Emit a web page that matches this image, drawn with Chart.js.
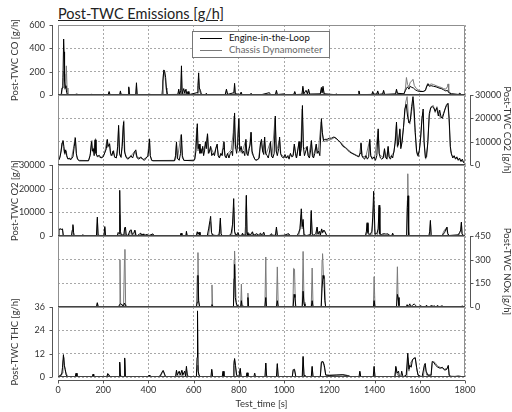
<!DOCTYPE html>
<html>
<head>
<meta charset="utf-8">
<script src="https://cdn.jsdelivr.net/npm/chart.js@4.4.1/dist/chart.umd.min.js"></script>
<style>
  html, body { margin: 0; padding: 0; background: #fff; }
  #wrap { position: relative; width: 512px; height: 412px; overflow: hidden; font-family: Lato, sans-serif; }
  #wrap canvas { position: absolute; left: 0; top: 0; }
  #title { position: absolute; left: 58px; top: 5px; font-size: 14.5px; line-height: normal; color: #222; text-decoration: underline; white-space: nowrap; }
  #legend { position: absolute; left: 192px; top: 31px; width: 136px; height: 25px; background: #fff; border: 1px solid #777; font-size: 9.5px; z-index: 5; }
  #legend .row { height: 12px; line-height: 12px; white-space: nowrap; }
  #legend .swatch { display: inline-block; width: 22px; height: 0; vertical-align: middle; margin: 0 7px 0 7px; }
</style>
</head>
<body>
<div id="wrap">
  <div id="title">Post-TWC Emissions [g/h]</div>
  <div id="legend"></div>
</div>
<script>
// series names / colours
const seriesNames = ['Engine-in-the-Loop', 'Chassis Dynamometer'];
const seriesColors = ['#000000', '#7a7a7a'];

// [time s, g/h]
const coEngine = [[0,2],[14,4],[18,60],[22,150],[25,480],[27,370],[29,120],[32,60],[35,80],[38,20],[42,3],[78,2],[81,10],[84,2],[145,2],[148,8],[151,2],[222,3],[226,30],[230,4],[273,3],[276,35],[279,5],[310,4],[313,70],[316,5],[344,3],[347,105],[350,4],[402,2],[405,10],[408,2],[460,4],[464,120],[468,215],[472,200],[476,150],[480,40],[484,4],[530,5],[534,50],[538,6],[543,40],[546,250],[549,10],[556,55],[560,15],[566,50],[570,5],[575,30],[579,3],[615,20],[619,80],[622,190],[625,60],[630,40],[634,5],[652,3],[656,15],[660,3],[700,2],[740,5],[745,50],[750,5],[778,20],[781,100],[784,10],[806,5],[810,25],[814,3],[850,3],[854,15],[858,2],[900,3],[935,20],[940,3],[962,5],[966,40],[970,4],[1003,10],[1006,2],[1043,5],[1047,30],[1051,4],[1079,6],[1083,75],[1087,10],[1097,40],[1103,10],[1108,50],[1113,8],[1160,10],[1165,65],[1168,20],[1172,75],[1177,10],[1226,3],[1230,10],[1234,3],[1327,3],[1331,35],[1335,3],[1388,5],[1392,30],[1396,5],[1410,10],[1414,35],[1418,5],[1436,10],[1440,40],[1444,5],[1493,10],[1497,50],[1501,15],[1530,10],[1537,40],[1541,55],[1546,70],[1552,50],[1558,75],[1565,65],[1572,60],[1580,45],[1590,35],[1600,30],[1615,30],[1625,40],[1632,80],[1636,95],[1642,75],[1650,80],[1660,75],[1672,70],[1685,60],[1695,55],[1705,45],[1715,35],[1722,40],[1728,20],[1740,10],[1770,5],[1777,15],[1784,3],[1800,2]];
const coChassis = [[0,2],[16,5],[20,80],[24,200],[27,180],[30,50],[34,100],[37,250],[40,60],[44,3],[78,2],[81,8],[84,2],[145,2],[148,10],[151,2],[222,2],[226,20],[230,3],[273,2],[276,25],[279,3],[310,3],[313,60],[316,3],[344,3],[347,80],[350,3],[402,2],[405,8],[408,2],[458,3],[462,50],[466,180],[470,210],[474,140],[478,60],[482,3],[530,3],[534,30],[538,3],[543,3],[546,200],[549,8],[556,8],[560,40],[564,5],[572,3],[575,20],[579,2],[615,3],[619,60],[622,140],[626,30],[634,3],[652,2],[656,10],[660,2],[740,2],[745,40],[750,3],[778,3],[781,80],[784,8],[806,2],[810,20],[814,2],[850,2],[854,10],[858,2],[962,2],[966,30],[970,3],[1043,2],[1047,25],[1051,3],[1079,3],[1083,60],[1087,8],[1104,5],[1108,40],[1113,5],[1160,5],[1165,50],[1168,15],[1172,60],[1177,8],[1226,2],[1230,8],[1234,2],[1327,2],[1331,30],[1335,2],[1388,2],[1392,25],[1396,3],[1410,3],[1414,30],[1418,3],[1436,3],[1440,35],[1444,3],[1493,3],[1497,40],[1501,10],[1530,8],[1537,60],[1541,150],[1546,90],[1552,70],[1558,110],[1565,120],[1570,135],[1576,80],[1585,55],[1600,35],[1615,30],[1625,40],[1632,90],[1636,100],[1642,85],[1650,95],[1660,90],[1672,80],[1685,70],[1695,65],[1705,55],[1715,50],[1722,70],[1725,95],[1728,30],[1740,10],[1772,3],[1777,12],[1784,2],[1800,2]];

const co2Engine = [[0,1500],[8,3000],[14,6000],[18,9500],[22,10500],[26,8000],[30,5000],[34,6500],[38,4000],[44,2500],[50,3000],[56,2200],[66,3500],[72,8000],[77,11500],[81,5000],[86,2500],[95,1800],[135,1800],[142,4000],[148,10000],[152,6000],[156,7000],[160,4000],[164,10800],[168,5000],[174,3500],[182,4200],[190,3000],[200,3500],[208,5500],[214,7000],[218,11000],[222,8000],[228,9000],[232,5000],[238,4000],[244,6000],[250,3500],[258,3000],[264,8000],[268,17000],[272,5000],[278,3500],[284,8000],[290,18500],[294,6000],[300,3500],[308,2500],[316,3000],[322,4000],[330,3000],[338,5500],[344,6500],[350,3000],[358,2500],[366,3500],[374,2500],[382,2000],[390,3000],[398,4000],[402,7000],[405,11000],[408,4000],[414,2000],[420,1800],[515,1800],[520,4000],[524,9900],[528,3000],[536,2000],[542,5000],[546,13000],[550,4000],[556,2000],[600,1800],[605,2500],[610,6000],[616,17700],[620,7000],[624,9000],[628,5000],[632,7000],[636,5000],[640,8000],[644,4000],[648,6000],[652,10000],[656,7000],[661,13400],[665,5000],[670,6000],[675,8000],[680,4000],[686,5000],[692,4000],[698,7000],[704,9000],[708,4000],[714,3000],[720,5000],[726,4000],[730,7000],[734,10000],[738,4000],[744,3000],[750,5000],[756,3000],[762,5000],[768,6000],[772,4000],[777,12000],[781,22300],[785,8000],[790,5000],[795,9000],[800,19900],[804,6000],[810,8000],[815,5000],[820,6000],[826,4000],[831,11000],[835,5000],[840,4000],[846,7000],[850,9000],[854,14000],[858,6000],[864,4000],[870,2500],[876,2000],[882,2200],[890,3000],[895,9000],[900,11000],[905,6000],[910,4500],[914,12000],[918,5000],[925,4000],[930,3000],[936,6000],[940,10000],[944,4000],[950,3000],[956,5000],[961,21000],[965,6000],[970,4000],[976,7000],[980,12000],[984,5000],[990,3500],[998,3000],[1004,4500],[1010,3000],[1016,4000],[1022,2500],[1028,5000],[1034,3500],[1040,4000],[1045,9000],[1050,5000],[1055,3000],[1060,6000],[1066,10000],[1070,4000],[1076,7000],[1081,25500],[1085,8000],[1090,4000],[1096,6000],[1102,8000],[1106,4000],[1112,3000],[1117,6000],[1121,10500],[1125,4000],[1130,3000],[1136,5000],[1142,9000],[1146,5000],[1152,6000],[1158,4000],[1165,19900],[1169,14000],[1174,10500],[1180,11000],[1190,11000],[1200,11500],[1210,11500],[1220,12000],[1230,11500],[1240,10500],[1250,9500],[1260,8000],[1270,7500],[1280,6500],[1290,5500],[1300,5000],[1310,4500],[1320,4000],[1330,3500],[1336,5000],[1340,9500],[1344,4000],[1350,3000],[1356,2500],[1362,4000],[1368,2500],[1374,3500],[1379,11000],[1383,4000],[1390,2500],[1398,3500],[1404,2000],[1410,4000],[1416,15500],[1420,5000],[1426,3000],[1432,2500],[1438,3000],[1444,7000],[1448,3500],[1455,2500],[1460,8000],[1464,3500],[1470,2500],[1476,4000],[1480,3000],[1486,6000],[1492,10000],[1497,18400],[1501,8000],[1506,9000],[1512,15500],[1516,7000],[1522,10000],[1528,16000],[1534,24000],[1540,26000],[1546,21000],[1552,18000],[1558,19000],[1564,25000],[1570,29300],[1575,24000],[1580,14000],[1586,6000],[1592,4000],[1598,6300],[1604,12000],[1610,20000],[1615,24000],[1619,10000],[1625,3000],[1630,3500],[1636,10000],[1642,22000],[1648,24500],[1655,25000],[1662,24500],[1668,23000],[1675,24500],[1682,21000],[1688,23500],[1694,20500],[1700,20000],[1706,22000],[1712,24000],[1718,25500],[1725,26400],[1730,20000],[1735,8000],[1740,4800],[1746,3000],[1752,4000],[1758,2500],[1764,3500],[1770,2000],[1776,3000],[1782,1500],[1788,2500],[1794,1000],[1800,500]];
const co2Chassis = [[0,1500],[10,4000],[16,8000],[20,10000],[24,7000],[30,4500],[36,6000],[42,3000],[50,2500],[60,3000],[68,7000],[76,12000],[82,4000],[90,2000],[135,1900],[144,5000],[150,10500],[154,5500],[160,7500],[166,11300],[170,4500],[180,3500],[192,3200],[206,5000],[216,10500],[220,7500],[228,9500],[234,4000],[246,6300],[252,3000],[262,4000],[268,16000],[272,4500],[280,3000],[288,17000],[291,19000],[296,5000],[306,3000],[320,3500],[340,6000],[348,3500],[364,3000],[378,2500],[396,3500],[404,11300],[408,4000],[416,1900],[518,2000],[524,9000],[528,2500],[544,13000],[550,3000],[560,1900],[604,2200],[614,16000],[619,6000],[626,8500],[634,6000],[646,7000],[654,9000],[662,13000],[668,5000],[676,7500],[690,4500],[702,8500],[712,3500],[724,4500],[732,9500],[740,3500],[752,5000],[766,6500],[775,14000],[779,21000],[784,7000],[792,8500],[799,19000],[804,5500],[816,6000],[830,10500],[836,4500],[848,8500],[853,14100],[858,5000],[872,2200],[886,2500],[898,10000],[906,5500],[913,11000],[920,4500],[938,9500],[946,3500],[960,20000],[966,5500],[980,11000],[986,4500],[1000,3500],[1012,3000],[1026,4500],[1038,3500],[1046,8500],[1054,3000],[1066,9500],[1072,4000],[1080,24000],[1086,7000],[1100,7500],[1108,3500],[1120,10000],[1128,3500],[1142,8500],[1150,5000],[1164,18500],[1170,13000],[1176,10000],[1190,10500],[1210,11000],[1222,11800],[1236,10800],[1250,9800],[1266,8000],[1284,6500],[1300,5200],[1320,4200],[1332,3600],[1340,9000],[1346,3500],[1362,3800],[1378,10500],[1384,3500],[1400,3000],[1416,14500],[1422,4500],[1440,3000],[1444,6500],[1452,2800],[1460,7500],[1466,3000],[1486,5500],[1497,17500],[1502,7500],[1512,15000],[1518,8000],[1530,18000],[1538,27000],[1544,29300],[1550,20000],[1556,17500],[1564,23000],[1570,27500],[1578,16000],[1586,5000],[1594,3500],[1602,9000],[1610,21000],[1614,22500],[1620,8000],[1626,2500],[1634,8000],[1642,21000],[1650,25000],[1660,25500],[1668,22500],[1676,25000],[1684,22000],[1692,20000],[1700,21000],[1710,23500],[1718,26000],[1724,26400],[1730,18000],[1736,6000],[1742,4000],[1750,3500],[1760,3000],[1770,2500],[1780,2000],[1790,1500],[1800,800]];

const o2Engine = [[0,0],[4,2800],[10,3000],[16,2800],[20,3000],[23,300],[30,0],[60,0],[63,2500],[66,4800],[69,1500],[72,0],[108,0],[110,600],[112,0],[170,0],[174,8000],[177,500],[180,0],[203,0],[207,4000],[210,300],[215,0],[262,0],[266,1500],[270,1000],[273,19300],[276,2000],[280,400],[291,500],[295,3500],[298,3800],[302,500],[310,200],[318,2300],[324,2600],[328,600],[336,1500],[340,2500],[344,300],[350,100],[360,800],[366,1200],[370,300],[376,900],[380,200],[395,700],[400,100],[420,900],[424,100],[540,0],[544,1200],[548,200],[566,0],[568,2000],[571,100],[612,0],[616,1800],[620,800],[624,1600],[628,0],[660,0],[666,3000],[672,6500],[675,8300],[679,1500],[684,500],[692,300],[700,200],[712,400],[715,3000],[718,7600],[721,1000],[726,200],[740,0],[760,300],[766,1200],[772,5000],[777,15800],[781,2000],[786,500],[792,800],[796,1500],[800,300],[812,200],[816,1200],[820,300],[828,400],[831,9000],[833,17200],[836,1500],[840,200],[845,1000],[850,300],[860,1800],[865,300],[880,1000],[884,200],[896,1200],[900,300],[906,1000],[910,1600],[914,200],[930,100],[940,400],[944,1000],[948,300],[962,300],[966,3800],[970,500],[975,200],[1000,300],[1020,1000],[1026,200],[1058,200],[1064,1400],[1070,3000],[1076,11500],[1080,4000],[1084,7000],[1088,500],[1100,200],[1116,600],[1120,10800],[1124,800],[1132,300],[1140,1000],[1146,3800],[1150,800],[1156,2000],[1160,400],[1166,3000],[1170,1500],[1176,2500],[1180,2000],[1186,600],[1192,100],[1200,0],[1360,0],[1364,2000],[1367,5600],[1371,1500],[1380,500],[1388,2000],[1392,8000],[1396,18900],[1399,10000],[1402,800],[1410,1000],[1416,3000],[1420,13000],[1423,1000],[1430,600],[1440,1000],[1450,800],[1460,900],[1466,300],[1476,100],[1480,1200],[1484,100],[1530,0],[1542,300],[1545,12000],[1548,17000],[1551,500],[1556,0],[1640,0],[1644,2000],[1647,6600],[1650,600],[1656,0],[1690,0],[1700,300],[1710,1500],[1716,3000],[1720,3800],[1724,1000],[1730,200],[1770,500],[1776,1500],[1781,2500],[1784,5900],[1787,1000],[1792,300],[1800,0]];
const o2Chassis = [[0,0],[4,2500],[12,3000],[20,2500],[24,0],[60,0],[63,2000],[66,4000],[70,0],[108,0],[110,400],[112,0],[171,0],[174,7000],[178,0],[204,0],[207,3500],[211,0],[263,0],[266,1000],[270,800],[273,9000],[276,1500],[280,0],[292,0],[295,3000],[300,0],[316,0],[320,2000],[326,1500],[330,0],[333,0],[336,1200],[342,2200],[346,0],[363,0],[366,1000],[370,0],[375,0],[378,700],[382,0],[417,0],[420,600],[424,0],[541,0],[544,900],[548,0],[565,0],[568,1500],[572,0],[613,0],[616,1500],[620,600],[624,1400],[628,0],[666,0],[672,5000],[675,6000],[679,1000],[684,0],[712,0],[715,2500],[718,6500],[722,0],[768,0],[772,3000],[777,12000],[781,1500],[786,0],[793,0],[796,1200],[800,0],[813,0],[816,1000],[820,0],[826,0],[829,4000],[833,17000],[836,1000],[840,0],[857,0],[860,1500],[865,0],[893,0],[896,1000],[900,0],[907,0],[910,1400],[914,0],[962,0],[966,3000],[970,0],[1017,0],[1020,800],[1026,0],[1064,0],[1070,2500],[1076,9000],[1080,3000],[1084,6000],[1088,0],[1116,0],[1120,9500],[1124,500],[1130,0],[1142,0],[1146,3500],[1150,500],[1160,0],[1166,2800],[1170,1200],[1176,2200],[1182,1500],[1190,0],[1361,0],[1364,1500],[1367,5000],[1371,1000],[1376,0],[1388,0],[1392,6000],[1396,14000],[1400,3000],[1404,0],[1413,0],[1416,2500],[1420,12000],[1424,500],[1430,0],[1437,0],[1440,800],[1446,0],[1457,0],[1460,700],[1466,0],[1477,0],[1480,1000],[1484,0],[1540,0],[1542,500],[1545,15000],[1547,26300],[1550,2000],[1554,0],[1641,0],[1644,1500],[1647,6000],[1651,0],[1695,0],[1700,500],[1706,2000],[1712,2800],[1718,3500],[1722,1500],[1726,0],[1772,0],[1776,1200],[1781,2000],[1784,5500],[1787,800],[1792,0],[1800,0]];

const noxEngine = [[0,0],[170,0],[174,25],[178,0],[268,0],[272,15],[276,20],[290,5],[294,25],[298,15],[302,0],[325,3],[330,0],[612,0],[616,30],[619,200],[622,40],[626,5],[630,0],[677,0],[681,15],[684,0],[776,0],[779,180],[781,270],[784,60],[788,30],[792,10],[808,0],[811,40],[814,5],[818,0],[836,0],[840,60],[843,0],[915,0],[919,60],[922,5],[926,0],[966,0],[970,40],[974,0],[1040,0],[1044,80],[1048,60],[1052,0],[1080,0],[1084,100],[1088,20],[1092,0],[1120,0],[1124,40],[1128,0],[1164,0],[1168,120],[1172,200],[1176,180],[1180,40],[1184,0],[1395,0],[1398,40],[1402,0],[1497,0],[1501,80],[1504,60],[1508,10],[1512,0],[1540,0],[1544,15],[1548,0],[1556,20],[1560,0],[1570,15],[1576,18],[1582,10],[1586,0],[1600,0],[1604,10],[1608,0],[1625,0],[1630,12],[1634,0],[1645,0],[1650,10],[1654,0],[1665,8],[1670,0],[1680,10],[1684,0],[1700,8],[1704,0],[1784,0],[1788,8],[1792,0],[1800,0]];
const noxChassis = [[0,0],[170,0],[174,30],[178,0],[270,0],[274,300],[277,20],[290,10],[294,300],[296,365],[299,20],[302,0],[612,0],[616,200],[619,345],[622,30],[626,0],[677,0],[681,140],[684,0],[776,0],[779,300],[781,355],[784,200],[788,20],[792,0],[808,0],[811,145],[814,10],[818,0],[836,0],[840,88],[843,0],[915,0],[919,317],[922,10],[926,0],[966,0],[970,254],[974,0],[1039,0],[1042,245],[1046,240],[1050,0],[1080,0],[1084,352],[1088,30],[1092,0],[1120,0],[1124,247],[1128,0],[1164,0],[1168,300],[1170,338],[1174,200],[1179,180],[1183,0],[1395,0],[1398,192],[1402,0],[1497,0],[1501,255],[1504,60],[1508,0],[1800,0]];

const thcEngine = [[0,0],[16,1],[20,5],[24,11.5],[28,6],[32,4],[36,1],[44,0],[76,0],[80,2],[84,0],[152,0],[155,1.5],[158,0],[216,0],[220,1.8],[226,1],[230,0],[270,0],[273,7.7],[276,0.5],[292,0],[295,9.8],[298,0.5],[302,0],[400,0],[403,1],[406,0],[440,0],[452,0.6],[460,2.5],[465,3.4],[470,2],[476,0],[520,0],[524,3.5],[528,1],[536,3],[540,1],[548,3.5],[552,1],[560,3],[564,0.5],[568,5.5],[572,1],[580,0],[612,0],[615,10],[617,34],[620,3],[624,1],[630,0],[676,0],[680,4],[684,0],[726,0],[730,3],[734,0],[776,0],[778,6],[781,9.5],[785,6],[790,1],[800,0],[806,4.5],[810,0],[832,0],[836,2.2],[840,0],[866,0],[870,2],[874,0],[915,0],[919,7.2],[922,1],[926,0],[966,0],[970,6.9],[974,0],[1036,0],[1040,3.5],[1046,4],[1052,0],[1080,0],[1084,10.6],[1088,1],[1092,0],[1120,0],[1124,5.5],[1128,0],[1160,0],[1165,7.5],[1172,8],[1178,6],[1184,1],[1200,0.8],[1230,1],[1260,1.2],[1280,0.8],[1300,0],[1331,0],[1335,3],[1339,0],[1394,0],[1398,5.5],[1402,0],[1490,0],[1494,5.5],[1500,2],[1506,3],[1510,0],[1516,0],[1520,3],[1526,0],[1540,1],[1547,12.3],[1552,4],[1556,6],[1562,5],[1568,9],[1574,9.5],[1580,10],[1586,5],[1592,1],[1610,0],[1620,6],[1624,7],[1628,3],[1636,1],[1650,1],[1655,8],[1662,7.5],[1670,6],[1680,5],[1690,4.5],[1700,5],[1710,3.5],[1720,4],[1726,6],[1730,1],[1740,0],[1770,0.5],[1800,0]];
const thcChassis = [[0,0],[18,2],[22,8],[26,10],[30,4],[36,2],[44,0],[77,0],[80,1.5],[84,0],[152,0],[155,1],[158,0],[216,0],[220,1.5],[226,0.5],[230,0],[270,0],[273,7],[276,0],[292,0],[295,9],[298,0],[400,0],[403,0.8],[406,0],[452,0],[460,2],[465,3],[470,1.5],[476,0],[521,0],[524,3],[528,0.5],[545,0.5],[548,3],[552,0.5],[565,0],[568,4],[572,0],[612,0],[615,4],[618,6],[622,1],[630,0],[677,0],[680,3.5],[684,0],[727,0],[730,2.5],[734,0],[775,0],[778,8],[781,9],[785,5],[790,0],[803,0],[806,4],[810,0],[833,0],[836,2],[840,0],[916,0],[919,7],[922,0],[967,0],[970,6.5],[974,0],[1036,0],[1040,4],[1046,3.5],[1052,0],[1081,0],[1084,10],[1088,0],[1121,0],[1124,5],[1128,0],[1160,0],[1165,8],[1172,7.5],[1178,5],[1184,1],[1200,1],[1230,1],[1260,1],[1300,0],[1332,0],[1335,2.5],[1339,0],[1395,0],[1398,5],[1402,0],[1490,0],[1494,5],[1500,1.5],[1510,0],[1543,0],[1547,10],[1552,3],[1558,7],[1566,8.5],[1574,9.8],[1580,9.5],[1588,3],[1596,0],[1616,0],[1620,5],[1624,6.5],[1630,1],[1650,0.5],[1655,7],[1662,8],[1670,7],[1680,5.5],[1690,5],[1700,4.5],[1710,4],[1720,4.5],[1726,5.5],[1730,0.5],[1800,0]];

// panel setup (which axis side carries the labels)
const panels = [
  { label: 'Post-TWC CO [g/h]', side: 'left', max: 600, step: 100, top: 25, bottom: 95, data: [coEngine, coChassis] },
  { label: 'Post-TWC CO2 [g/h]', side: 'right', max: 30000, step: 5000, top: 95, bottom: 165, data: [co2Engine, co2Chassis] },
  { label: 'Post-TWC O2 [g/h]', side: 'left', max: 30000, step: 5000, top: 165, bottom: 236, data: [o2Engine, o2Chassis] },
  { label: 'Post-TWC NOx [g/h]', side: 'right', max: 450, step: 75, top: 236, bottom: 307, data: [noxEngine, noxChassis] },
  { label: 'Post-TWC THC [g/h]', side: 'left', max: 36, step: 6, top: 307, bottom: 377, data: [thcEngine, thcChassis] }
];

const W = 512, H = 412, LEFT_W = 58, RIGHT_W = 47;
const GRID = '#a8a8a8';

Chart.defaults.font.family = 'Lato, sans-serif';
Chart.defaults.font.size = 9;
Chart.defaults.color = '#333';

// frame around each panel + detached spines with tick marks
const panelFrame = {
  id: 'panelFrame',
  afterDraw(chart, args, opts) {
    const { ctx, chartArea: a } = chart;
    const scale = chart.scales.y;
    ctx.save();
    ctx.lineWidth = 1;
    ctx.strokeStyle = '#8f8f8f';
    ctx.beginPath();
    ctx.moveTo(a.left + 0.5, a.bottom);
    ctx.lineTo(a.left + 0.5, a.top + 0.5);
    ctx.lineTo(a.right - 0.5, a.top + 0.5);
    ctx.lineTo(a.right - 0.5, a.bottom);
    ctx.stroke();
    ctx.strokeStyle = '#444';
    ctx.beginPath();
    ctx.moveTo(a.left, a.bottom - 0.5);
    ctx.lineTo(a.right, a.bottom - 0.5);
    ctx.stroke();

    const isLeft = opts.side === 'left';
    const x = isLeft ? a.left - 5.5 : a.right + 5.5;
    const dir = isLeft ? -1 : 1;
    ctx.strokeStyle = '#555';
    ctx.beginPath();
    ctx.moveTo(x, a.top);
    ctx.lineTo(x, a.bottom);
    scale.ticks.forEach(t => {
      if (t.value % opts.major !== 0) return;
      const y = Math.round(scale.getPixelForValue(t.value)) + 0.5;
      ctx.moveTo(x, y);
      ctx.lineTo(x + dir * 3, y);
    });
    if (opts.xSpine) {
      const xs = chart.scales.x;
      const y = a.bottom + 3.5;
      ctx.moveTo(a.left, y);
      ctx.lineTo(a.right, y);
      xs.ticks.forEach(t => {
        const px = Math.round(xs.getPixelForValue(t.value)) + 0.5;
        ctx.moveTo(px, y);
        ctx.lineTo(px, y + 3);
      });
    }
    ctx.stroke();
    ctx.restore();
  }
};

const wrap = document.getElementById('wrap');
const charts = [];

panels.forEach((p, i) => {
  const last = i === panels.length - 1;
  const other = p.side === 'left' ? 'right' : 'left';
  const canvas = document.createElement('canvas');
  canvas.width = W;
  canvas.height = H;
  wrap.insertBefore(canvas, document.getElementById('legend'));

  const datasets = p.data.map((series, k) => ({
    label: seriesNames[k],
    data: series.map(([t, v]) => ({ x: t, y: v })),
    borderColor: seriesColors[k],
    backgroundColor: seriesColors[k],
    borderWidth: 1,
    pointRadius: 0,
    tension: 0
  }));

  charts.push(new Chart(canvas, {
    type: 'line',
    data: { datasets },
    options: {
      responsive: false,
      animation: false,
      devicePixelRatio: 1,
      events: [],
      layout: { padding: { top: p.top, left: 0, right: 0, bottom: 0 } },
      plugins: {
        legend: { display: false },
        tooltip: { enabled: false },
        panelFrame: { side: p.side, major: p.step * 2, xSpine: last }
      },
      scales: {
        x: {
          type: 'linear',
          min: 0,
          max: 1800,
          afterFit: s => { s.height = H - p.bottom; },
          ticks: { display: last, stepSize: 200, padding: 8, color: '#333', callback: v => String(v) },
          grid: { color: GRID, lineWidth: 1, drawTicks: false },
          border: { display: false, dash: [2, 2] },
          title: { display: last, text: 'Test_time [s]', color: '#333', font: { size: 9.5 }, padding: { top: 2, bottom: 2.5 } }
        },
        y: {
          type: 'linear',
          position: p.side,
          min: 0,
          max: p.max,
          afterFit: s => { s.width = p.side === 'left' ? LEFT_W : RIGHT_W; },
          ticks: {
            stepSize: p.step,
            padding: p.side === 'left' ? 13 : 10,
            callback: v => (v % (p.step * 2) === 0 ? String(v) : '')
          },
          grid: { color: GRID, lineWidth: 1, drawTicks: false },
          border: { display: false, dash: [2, 2] },
          title: {
            display: true,
            text: p.label,
            color: '#333',
            font: { size: 9.5, lineHeight: 1 },
            padding: { top: p.side === 'left' ? 10 : 0, bottom: 0 }
          }
        },
        y2: {
          type: 'linear',
          position: other,
          min: 0,
          max: p.max,
          afterFit: s => { s.width = other === 'left' ? LEFT_W : RIGHT_W; },
          ticks: { display: false },
          grid: { display: false },
          border: { display: false },
          title: { display: false }
        }
      }
    },
    plugins: [panelFrame]
  }));
});

// legend from the first panel's datasets
const legend = document.getElementById('legend');
charts[0].data.datasets.forEach((ds, k) => {
  const row = document.createElement('div');
  row.className = 'row';
  row.style.color = k === 0 ? '#111' : '#666';
  const sw = document.createElement('span');
  sw.className = 'swatch';
  sw.style.borderTop = '1.5px solid ' + ds.borderColor;
  row.appendChild(sw);
  row.appendChild(document.createTextNode(ds.label));
  legend.appendChild(row);
});
</script>
</body>
</html>
